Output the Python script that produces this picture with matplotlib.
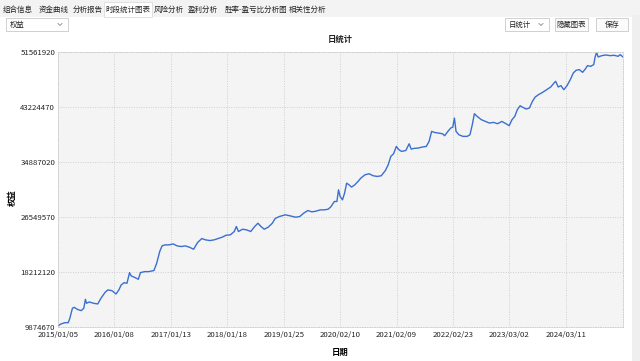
import matplotlib
matplotlib.use("Agg")
import matplotlib.pyplot as plt
from matplotlib.patches import Rectangle

plt.rcParams['font.family'] = ['Noto Sans CJK SC', 'DejaVu Sans']

# trading-day index of each sampled point and the equity there
day_idx = [0, 12, 30, 44, 51, 62, 70, 83, 100, 111, 118, 123, 135, 153, 171, 185, 202, 214,
           232, 250, 262, 272, 285, 297, 308, 315, 329, 346, 355, 373, 390, 413, 425, 438,
           448, 461, 478, 496, 513, 531, 548, 566, 584, 601, 619, 636, 654, 672, 689, 707,
           724, 742, 759, 768, 777, 795, 812, 830, 847, 861, 874, 888, 905, 923, 935, 953,
           979, 1000, 1023, 1041, 1058, 1076, 1093, 1111, 1129, 1146, 1164, 1176, 1190, 1201,
           1208, 1215, 1225, 1234, 1243, 1253, 1264, 1278, 1292, 1304, 1322, 1340, 1357, 1375,
           1392, 1410, 1422, 1433, 1445, 1457, 1468, 1480, 1498, 1512, 1521, 1533, 1551, 1568,
           1586, 1598, 1609, 1621, 1638, 1656, 1665, 1679, 1691, 1700, 1707, 1714, 1726, 1744,
           1762, 1774, 1784, 1793, 1805, 1823, 1841, 1858, 1876, 1893, 1911, 1929, 1943, 1955,
           1967, 1978, 1990, 1999, 2016, 2030, 2043, 2055, 2069, 2087, 2104, 2122, 2136, 2143,
           2154, 2166, 2178, 2192, 2206, 2219, 2231, 2245, 2259, 2271, 2280, 2294, 2307, 2312,
           2319, 2326, 2342, 2359, 2377, 2395, 2412, 2421, 2433]
equity_m = [10.03, 10.33, 10.53, 10.53, 11.19, 12.71, 12.86, 12.56, 12.35, 12.71, 14.07, 13.47,
            13.67, 13.47, 13.37, 14.23, 15.09, 15.49, 15.39, 14.88, 15.49, 16.25, 16.60, 16.50,
            18.12, 17.62, 17.41, 17.11, 18.12, 18.27, 18.27, 18.43, 19.54, 21.31, 22.17, 22.32,
            22.32, 22.47, 22.17, 22.07, 22.17, 21.97, 21.66, 22.68, 23.28, 23.08, 22.98, 23.08,
            23.28, 23.49, 23.79, 23.84, 24.35, 25.11, 24.35, 24.70, 24.60, 24.35, 25.11, 25.61,
            25.11, 24.70, 25.00, 25.61, 26.32, 26.62, 26.88, 26.72, 26.52, 26.62, 27.13, 27.53,
            27.33, 27.43, 27.63, 27.63, 27.74, 28.14, 28.90, 28.90, 30.67, 29.66, 29.15, 30.16,
            31.68, 31.43, 31.08, 31.43, 31.94, 32.44, 32.95, 33.10, 32.80, 32.70, 32.80, 33.61,
            34.47, 35.73, 36.14, 37.25, 36.74, 36.49, 36.64, 37.65, 36.84, 36.95, 37.00, 37.15,
            37.25, 38.01, 39.53, 39.37, 39.27, 39.17, 38.87, 39.53, 40.03, 40.18, 41.55, 39.53,
            39.02, 38.77, 38.77, 39.02, 40.54, 42.21, 41.80, 41.30, 41.04, 40.79, 40.89, 40.69,
            41.04, 40.69, 40.39, 41.30, 41.80, 42.82, 43.42, 43.22, 42.92, 43.07, 44.08, 44.74,
            45.09, 45.45, 45.85, 46.26, 46.86, 47.12, 46.26, 46.46, 45.85, 46.46, 47.37, 48.38,
            48.79, 48.89, 48.48, 48.99, 49.49, 49.39, 49.65, 50.66, 51.52, 50.81, 51.01, 51.11,
            51.01, 51.06, 50.91, 51.16, 50.81]

y_ticks = [9874670, 18212120, 26549570, 34887020, 43224470, 51561920]
x_labels = ['2015/01/05', '2016/01/08', '2017/01/13', '2018/01/18', '2019/01/25',
            '2020/02/10', '2021/02/09', '2022/02/23', '2023/03/02', '2024/03/11']
x_step = 243
tabs = ['组合信息', '资金曲线', '分析报告', '时段统计图表', '风险分析', '盈利分析',
        '胜率-盈亏比分析图', '相关性分析']
tab_x = [18, 54, 88, 128, 169, 203, 256, 308]

W, H = 640, 361
fig = plt.figure(figsize=(W / 100, H / 100), dpi=100)
fig.patch.set_facecolor('white')

# background "window" drawn in pixel coordinates
bg = fig.add_axes([0, 0, 1, 1])
bg.set_xlim(0, W)
bg.set_ylim(H, 0)
bg.axis('off')
bg.add_patch(Rectangle((0, 0), W, 17, color='#f3f3f3', lw=0))
bg.add_patch(Rectangle((632, 15), 8, H, color='#efefef', lw=0))
bg.add_patch(Rectangle((104, 2), 48, 15, facecolor='white', edgecolor='#dddddd', lw=0.6))
for t, x in zip(tabs, tab_x):
    bg.text(x, 10, t, ha='center', va='center', fontsize=5.4, color='#222222')


def combo(x0, x1, label):
    bg.add_patch(Rectangle((x0, 18), x1 - x0, 13, facecolor='white', edgecolor='#c9c9c9', lw=0.6))
    bg.text(x0 + 4, 24.5, label, ha='left', va='center', fontsize=5.3, color='#222222')
    bg.plot([x1 - 10, x1 - 8, x1 - 6], [23.5, 25.5, 23.5], color='#888888', lw=0.6)


def button(x0, x1, label):
    bg.add_patch(Rectangle((x0, 18), x1 - x0, 13, facecolor='#fbfbfb', edgecolor='#c9c9c9', lw=0.6))
    bg.text((x0 + x1) / 2, 24.5, label, ha='center', va='center', fontsize=5.3, color='#222222')


combo(6, 68, '权益')
combo(505, 549, '日统计')
button(555, 588, '隐藏图表')
button(596, 628, '保存')
bg.text(340, 39.5, '日统计', ha='center', va='center', fontsize=6, fontweight='bold', color='#222222')

# chart area
ax = fig.add_axes([58 / W, (H - 327) / H, 565 / W, 275 / H])
ax.set_facecolor('#f4f4f4')
values = [v * 1e6 for v in equity_m]
ax.plot(day_idx, values, color='#3b6fcf', lw=1.0)

ax.set_xlim(0, day_idx[-1])
ax.set_ylim(y_ticks[0], y_ticks[-1])
ax.set_yticks(y_ticks)
ax.set_yticklabels([str(v) for v in y_ticks])
ax.set_xticks([i * x_step for i in range(len(x_labels))])
ax.set_xticklabels(x_labels)
ax.tick_params(length=0, labelsize=5.6, colors='#222222')
ax.tick_params(axis='y', pad=2)
ax.tick_params(axis='x', pad=3)
ax.grid(True, linestyle=(0, (1, 1.5)), color='#cfcfcf', lw=0.7)
for s in ax.spines.values():
    s.set_linestyle((0, (1, 1.5)))
    s.set_color('#cfcfcf')
    s.set_linewidth(0.7)
ax.set_xlabel('日期', fontsize=6, fontweight='bold')
ax.xaxis.set_label_coords(0.5, -0.075)
ax.set_ylabel('权益', fontsize=6, fontweight='bold')
ax.yaxis.set_label_coords(-41 / 565, 0.47)

fig.savefig('out.png', dpi=100)
